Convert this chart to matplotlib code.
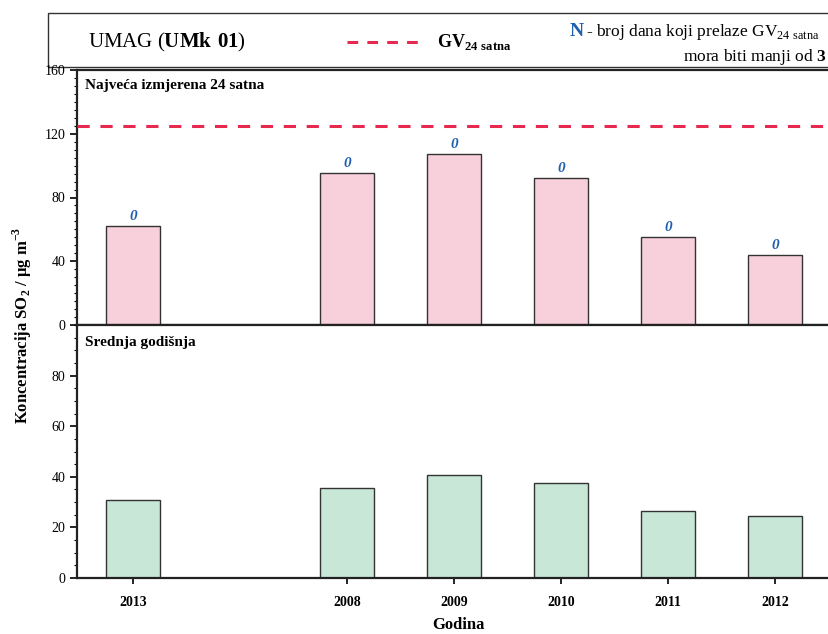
import matplotlib.pyplot as plt
from matplotlib.patches import Rectangle
from matplotlib.ticker import MultipleLocator

plt.rcParams['font.family'] = ['Liberation Serif', 'DejaVu Serif']
plt.rcParams['mathtext.fontset'] = 'custom'
plt.rcParams['mathtext.rm'] = 'Liberation Serif'
plt.rcParams['mathtext.bf'] = 'Liberation Serif:bold'

years = ['2013', '2008', '2009', '2010', '2011', '2012']
positions = [0, 2, 3, 4, 5, 6]
max_24h = [62.3, 95.2, 107.3, 92.0, 55.4, 44.1]
annual_mean = [30.7, 35.5, 40.7, 37.7, 26.5, 24.5]
days_over = [0, 0, 0, 0, 0, 0]
limit_24h = 125

pink = '#f8d0dc'
green = '#c9e7d6'
blue = '#1f5fae'
red = '#e8294f'

fig = plt.figure(figsize=(8.29, 6.34), dpi=100, facecolor='white')
W, H = 829, 634

def px_axes(x0, y0, x1, y1):
    return fig.add_axes([x0 / W, 1 - y1 / H, (x1 - x0) / W, (y1 - y0) / H])

ax1 = px_axes(77, 70, 840, 325)
ax2 = px_axes(77, 325, 840, 578)
xlim = (-0.523, 6.607)

for ax in (ax1, ax2):
    ax.set_xlim(*xlim)
    ax.set_xticks(positions)
    ax.tick_params(axis='x', direction='out', length=4, width=1.2)
    ax.tick_params(axis='y', which='major', direction='out', length=5, width=1.2, labelsize=10)
    ax.tick_params(axis='y', which='minor', direction='out', length=2.5, width=0.8)
    for s in ax.spines.values():
        s.set_linewidth(1.6)
        s.set_color('#222222')

# top panel: max 24h
ax1.bar(positions, max_24h, width=0.5, color=pink, edgecolor='#333333', linewidth=1.0, zorder=2)
ax1.axhline(limit_24h, color=red, linestyle=(0, (4, 3.5)), linewidth=2.2, zorder=3)
for x, v, n in zip(positions, max_24h, days_over):
    ax1.text(x, v + 2, str(n), color=blue, fontsize=11, fontweight='bold', style='italic',
             ha='center', va='bottom')
ax1.set_ylim(0, 160)
ax1.yaxis.set_major_locator(MultipleLocator(40))
ax1.yaxis.set_minor_locator(MultipleLocator(5))
ax1.set_xticklabels([])
ax1.text(0.01, 0.965, 'Najveća izmjerena 24 satna', transform=ax1.transAxes,
         fontsize=11, fontweight='bold', va='top', ha='left')

# bottom panel: annual mean
ax2.bar(positions, annual_mean, width=0.5, color=green, edgecolor='#333333', linewidth=1.0, zorder=2)
ax2.set_ylim(0, 100)
ax2.yaxis.set_major_locator(MultipleLocator(20))
ax2.yaxis.set_minor_locator(MultipleLocator(5))
ax2.set_yticks([0, 20, 40, 60, 80])
ax2.set_xticklabels(years, fontsize=10, fontweight='bold')
ax2.tick_params(axis='x', pad=9)
ax2.text(0.01, 0.955, 'Srednja godišnja', transform=ax2.transAxes,
         fontsize=11, fontweight='bold', va='top', ha='left')
ax2.set_xlabel('Godina', fontsize=12, fontweight='bold', labelpad=6)

fig.text(22 / W, 1 - 325 / H, r'Koncentracija SO$_\mathbf{2}$ / $\mathbf{\mu}$g m$^\mathbf{-3}$',
         rotation=90, fontsize=12, fontweight='bold', ha='center', va='center')

# header box
box = Rectangle((48 / W, 1 - 67 / H), 1.0, 54 / H, transform=fig.transFigure,
                facecolor='white', edgecolor='#333333', linewidth=1.0, zorder=-1)
fig.patches.append(box)
fig.text(88 / W, 1 - 42 / H, r'UMAG ($\mathbf{UMk\ 01}$)', fontsize=15, va='center', ha='left')
fig.add_artist(plt.Line2D([347 / W, 425 / W], [1 - 42 / H, 1 - 42 / H], transform=fig.transFigure,
                          color=red, linestyle=(0, (3.5, 3)), linewidth=2.2))
fig.text(437 / W, 1 - 42 / H, r'GV$_{\mathbf{24\ satna}}$', fontsize=13, fontweight='bold',
         va='center', ha='left')
fig.text(570 / W, 1 - 32 / H, 'N', fontsize=14, fontweight='bold', color=blue, va='center', ha='left')
fig.text(586 / W, 1 - 32 / H, r'- broj dana koji prelaze GV$_{24\ \mathrm{satna}}$', fontsize=12.5,
         va='center', ha='left')
fig.text(826 / W, 1 - 57 / H, r'mora biti manji od $\mathbf{3}$', fontsize=12.5, va='center', ha='right')

fig.savefig('out.png', dpi=100)
